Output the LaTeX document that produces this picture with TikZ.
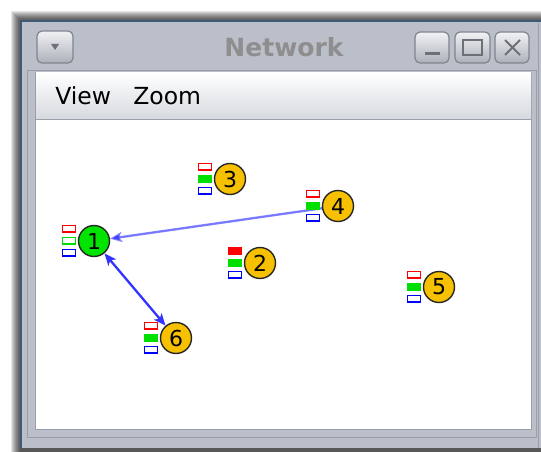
\documentclass[tikz,border=0pt]{standalone}
\usepackage{fontspec}
\setmainfont{DejaVu Sans}
\usetikzlibrary{arrows.meta,automata,calc,backgrounds}

\definecolor{framegrey}{HTML}{BBBFC9}
\definecolor{edgeblue}{HTML}{3D5A78}
\definecolor{linegrey}{HTML}{9A9EA8}
\definecolor{menugrey}{HTML}{D6D9DF}
\definecolor{btngrey}{HTML}{80848E}
\definecolor{glyphgrey}{HTML}{6C7078}
\definecolor{titlegrey}{HTML}{8E8E8E}
\definecolor{nodeyellow}{HTML}{F7C000}
\definecolor{nodegreen}{HTML}{00E400}
\definecolor{flaggreen}{HTML}{00E000}

\begin{document}
\begin{tikzpicture}[x=1pt, y=-1pt, >={Stealth[length=12pt,width=10pt,inset=3pt]}, semithick]
        \tikzstyle{every state}=[fill=nodeyellow,draw=black!85,line width=1.4pt,text=black,minimum size=31pt,inner sep=0pt,font=\fontsize{22}{22}\selectfont]
        \tikzstyle{button}=[draw=btngrey,rounded corners=5pt,line width=1.2pt,top color=white!80!framegrey,bottom color=framegrey!92!black]
        \tikzstyle{glyph}=[draw=glyphgrey,line width=2pt]
        \tikzstyle{flag}=[line width=1.6pt]
        \tikzstyle{menu}=[inner sep=0pt,anchor=base west,font=\fontsize{23.5}{24}\selectfont]

        \useasboundingbox (0,0) rectangle (541,452);

        % window decoration
        \begin{scope}[on background layer]
            \foreach \i in {0,...,9}
                \fill[black,opacity=0.1] (20-\i,20-\i) rectangle (541,452);
            \fill[framegrey] (20,20) rectangle (541,448);
            \draw[edgeblue,line width=2pt] (21,448) -- (21,21) -- (541,21);
            \draw[linegrey] (538,23) -- (538,448);
            \draw[linegrey] (27,70) rectangle (536,437);
            \fill[white] (36,119) rectangle (531,429);
            \draw[linegrey] (35.5,72.5) rectangle (531.5,429.5);
            \shade[top color=white,bottom color=menugrey] (36,73) rectangle (531,119);
            \draw[linegrey] (36,119) -- (531,119);

            % title bar buttons
            \draw[button] (37,31) rectangle (73,63);
            \fill[glyphgrey] (51,44) -- (59,44) -- (55,50) -- cycle;
            \draw[button] (415,32) rectangle (449,63);
            \draw[glyph,line width=3pt] (425,54) -- (440,54);
            \draw[button] (455,32) rectangle (490,63);
            \draw[glyph] (463,40) rectangle (482,55);
            \draw[glyph] (463,40.5) -- (482,40.5);
            \draw[button] (495,32) rectangle (529,63);
            \draw[glyph] (505,40) -- (520,55) (505,55) -- (520,40);
        \end{scope}

        \node[font=\fontsize{25}{25}\selectfont\bfseries,text=titlegrey] (title) at (284,47) {Network};
        \node[menu] (view) at (55,104) {View};
        \node[menu] (zoom) at (133,104) {Zoom};

        % network nodes
        \node[state,fill=nodegreen] (1) at (94,241)  {1};
        \node[state]                (2) at (260,263) {2};
        \node[state]                (3) at (230,179) {3};
        \node[state]                (4) at (338,206) {4};
        \node[state]                (5) at (439,287) {5};
        \node[state]                (6) at (176,338) {6};

        \begin{scope}[on background layer]
            \path
                (4.center) edge[draw=blue,fill=blue,opacity=0.5,line width=2.3pt,->] (1)
                (1) edge[draw=blue!80,fill=blue!80,line width=2.3pt,<->] (6)
            ;
        \end{scope}

        % status flags beside each node
        \foreach \n/\rf/\gf in {1/white/white, 2/red/flaggreen, 3/white/flaggreen, 4/white/flaggreen, 5/white/flaggreen, 6/white/flaggreen} {
            \draw[flag,draw=red,fill=\rf]       ($(\n.west)+(-15.5,-15.5)$) rectangle +(13,6.5);
            \draw[flag,draw=flaggreen,fill=\gf] ($(\n.west)+(-15.5,-3.5)$)  rectangle +(13,6.5);
            \draw[flag,draw=blue,fill=white]    ($(\n.west)+(-15.5,8.5)$)   rectangle +(13,6.5);
        }
\end{tikzpicture}
\end{document}
